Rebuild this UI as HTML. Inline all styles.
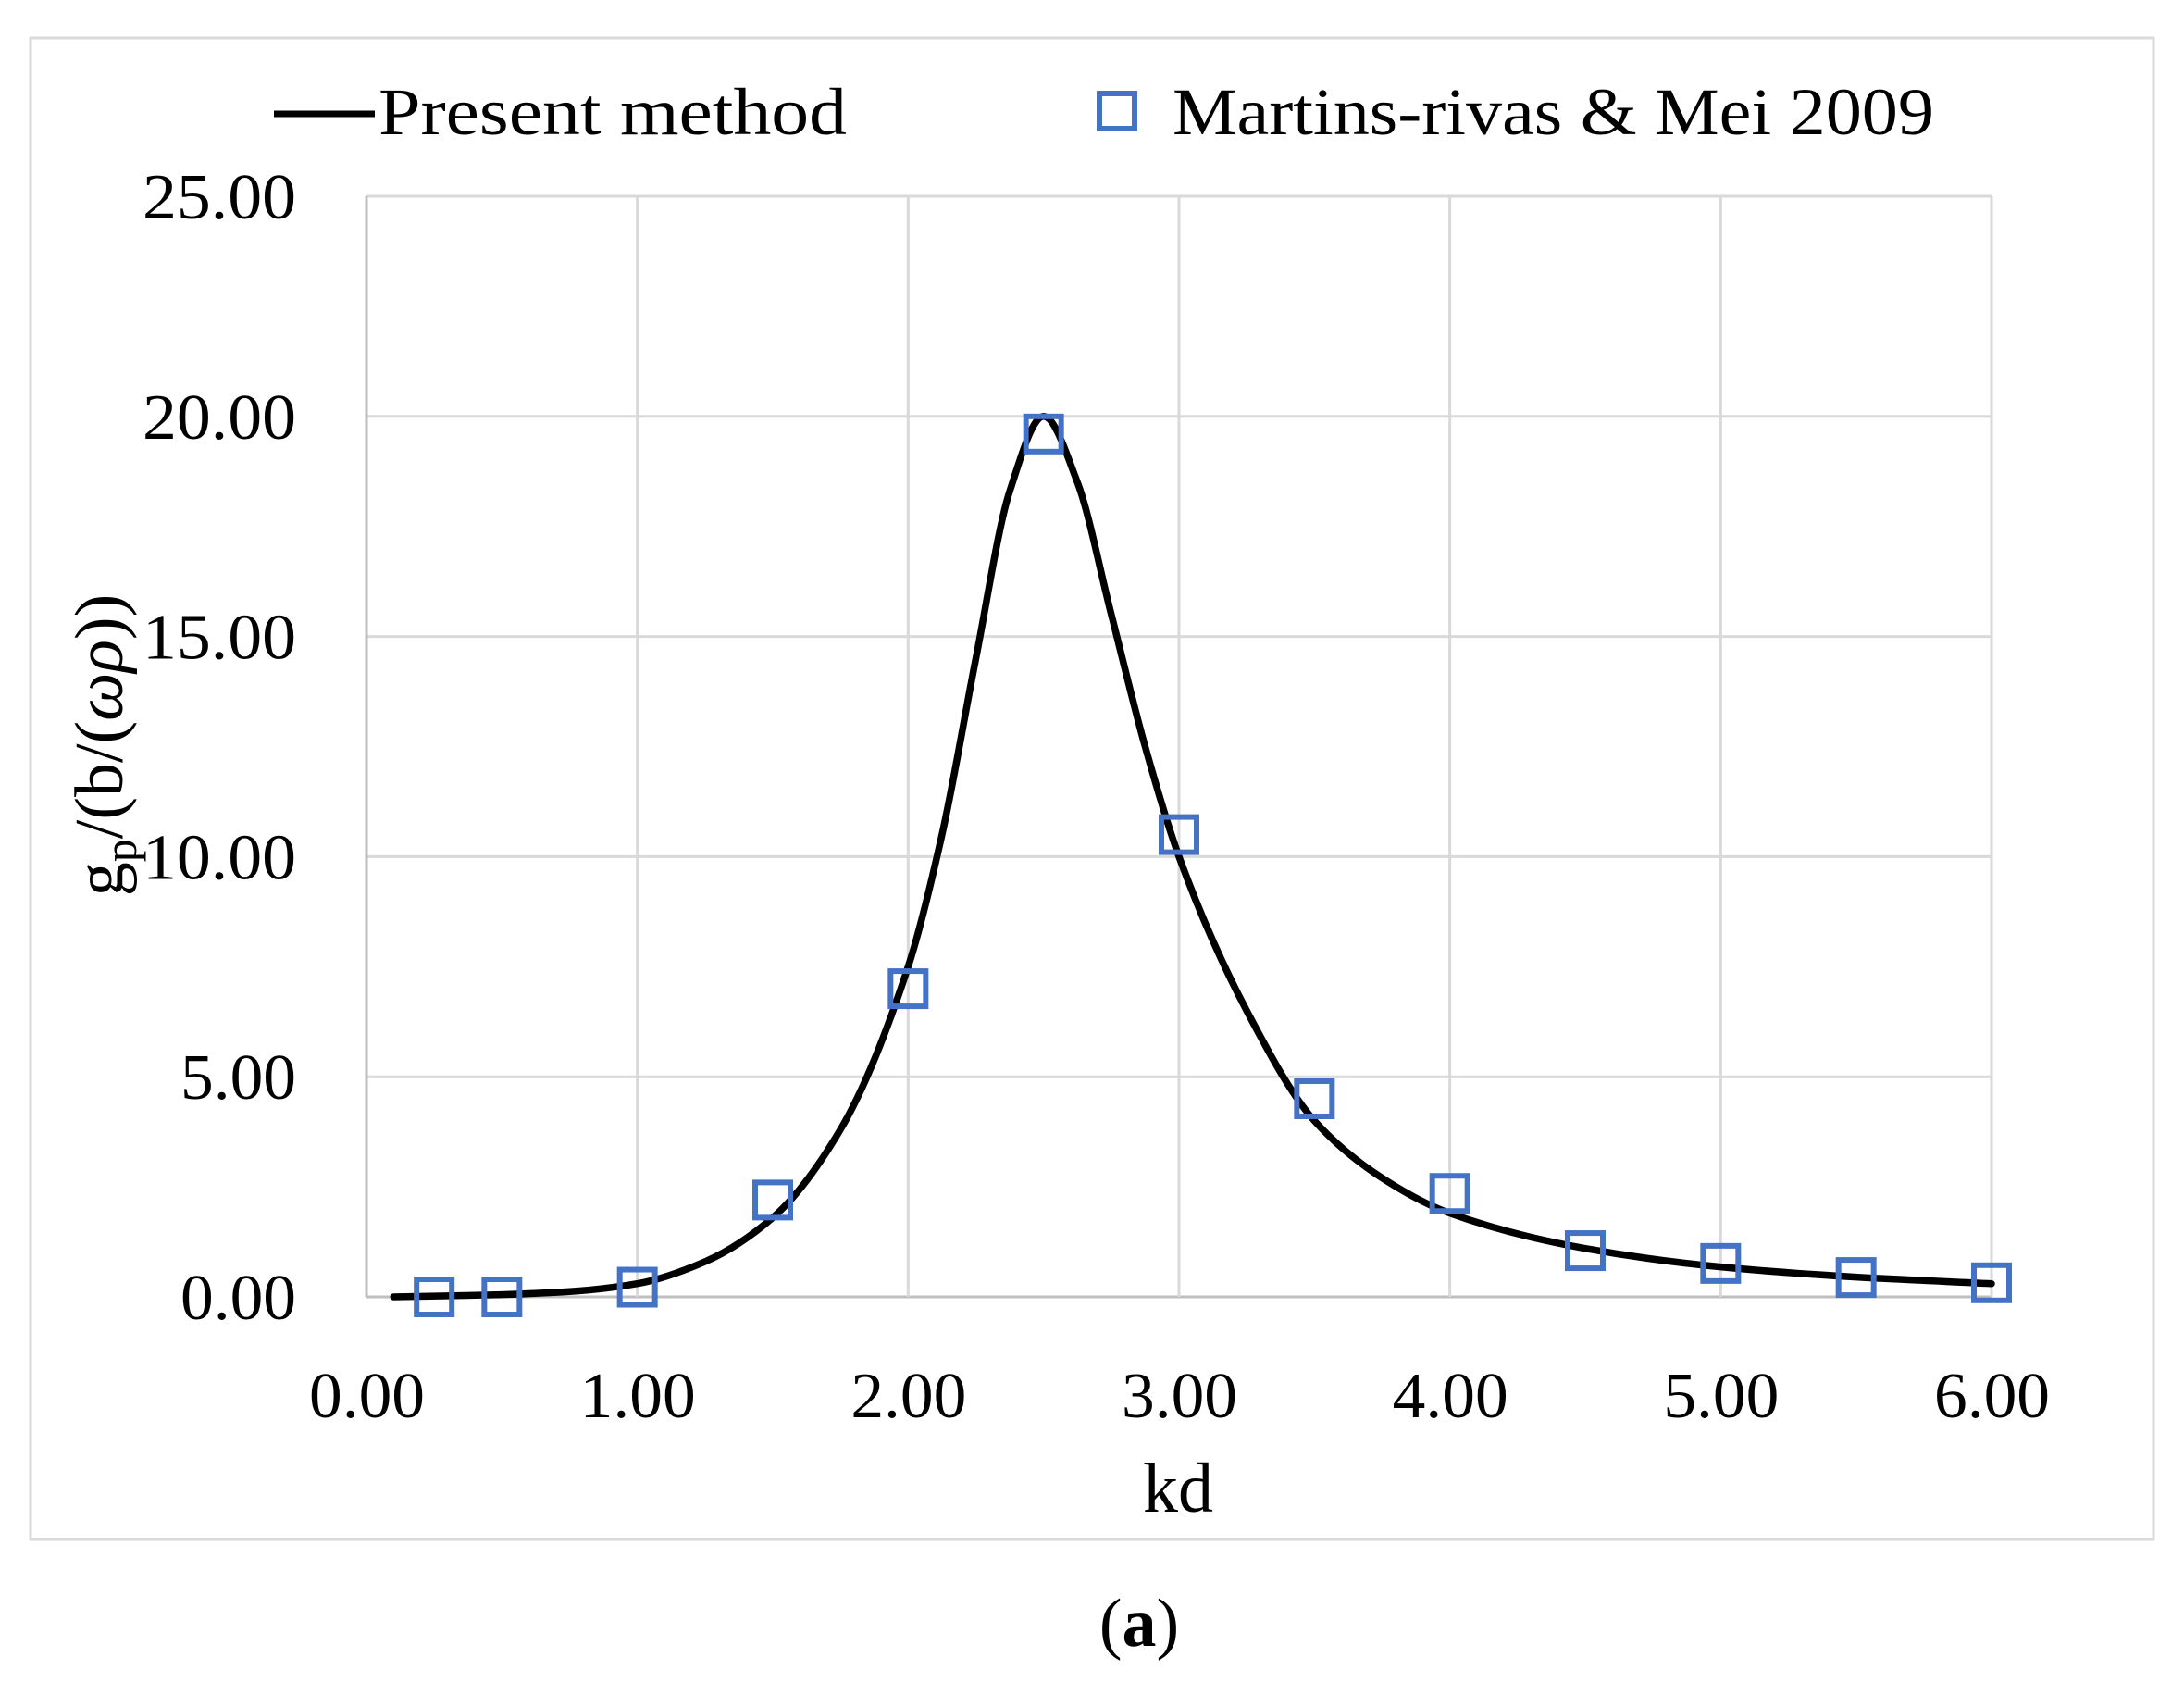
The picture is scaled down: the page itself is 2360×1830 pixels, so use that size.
<!DOCTYPE html>
<html><head><meta charset="utf-8">
<style>
html,body{margin:0;padding:0;background:#fff;}
svg{display:block;font-family:"Liberation Serif","DejaVu Serif",serif;}
</style></head>
<body>
<svg id="chart" width="2360" height="1830" viewBox="0 0 2360 1830" xmlns="http://www.w3.org/2000/svg">
<rect x="0" y="0" width="2360" height="1830" fill="#fff"/>
<rect x="33" y="41" width="2294" height="1622" fill="none" stroke="#d9d9d9" stroke-width="3"/>
<g id="grid"></g>
<g id="ticks"></g>
<g id="series"></g>
<g>
 <line x1="296" y1="123" x2="405" y2="123" stroke="#000" stroke-width="7"/>
 <text x="409" y="145" font-size="72" textLength="506" lengthAdjust="spacingAndGlyphs">Present method</text>
 <rect x="1188" y="101" width="38" height="38" fill="none" stroke="#4472c4" stroke-width="6"/>
 <text x="1267" y="145" font-size="72" textLength="823" lengthAdjust="spacingAndGlyphs">Martins-rivas &amp; Mei 2009</text>
</g>
<text transform="translate(132,805) rotate(-90)" text-anchor="middle" font-size="74">g<tspan font-size="50" dy="15">p</tspan><tspan dy="-15">/(b/(</tspan><tspan font-style="italic">ωρ</tspan>))</text>
<text x="1273" y="1633" text-anchor="middle" font-size="76">kd</text>
<text x="1231" y="1778" text-anchor="middle" font-size="74">(<tspan font-weight="bold">a</tspan>)</text>
</svg>
<script>
const xTicks = [0,1,2,3,4,5,6];
const yTicks = [0,5,10,15,20,25];
const curveX = [0.1,0.5,0.75,1,1.25,1.5,1.75,2,2.125,2.25,2.375,2.5,2.625,2.75,2.875,3,3.25,3.5,3.75,4,4.5,5,5.5,6];
const curveY = [0,0.05,0.12,0.3,0.8,1.8,3.8,7.5,10.5,14.5,18.3,20.0,18.5,15.5,12.5,10.0,6.5,4.0,2.7,1.9,1.1,0.68,0.45,0.3];
const refX = [0.25,0.5,1,1.5,2,2.5,3,3.5,4,4.5,5,5.5,6];
const refY = [0,0,0.22,2.2,7.0,19.6,10.5,4.5,2.35,1.05,0.76,0.44,0.32];

const NS = "http://www.w3.org/2000/svg";
const X0=396, X1=2152, Y0=1401, Y1=212;
function sx(v){return X0+(v-0)/(6-0)*(X1-X0);}
function sy(v){return Y0-(v-0)/(25-0)*(Y0-Y1);}
function mk(tag, attrs, parent){const e=document.createElementNS(NS,tag);for(const k in attrs)e.setAttribute(k,attrs[k]);parent.appendChild(e);return e;}
const grid=document.getElementById('grid'), ticks=document.getElementById('ticks'), series=document.getElementById('series');
yTicks.forEach(t=>{
  const l=mk('line',{x1:X0,x2:X1,y1:sy(t),y2:sy(t),stroke:t===0?'#bfbfbf':'#d9d9d9','stroke-width':3},grid);
  
  
  const s=t.toFixed(2);
  const tx=mk('text',{x:X0-76-(s.length===5?166:125),y:sy(t)+24,'font-size':70,textLength:(s.length===5?166:125),lengthAdjust:'spacingAndGlyphs'},ticks);
  tx.textContent=s;
  
  
});
xTicks.forEach(t=>{
  const l=mk('line',{x1:sx(t),x2:sx(t),y1:Y1,y2:Y0,stroke:t===0?'#bfbfbf':'#d9d9d9','stroke-width':3},grid);
  
  
  const tx=mk('text',{x:sx(t)-62,y:Y0+130,'font-size':70,textLength:125,lengthAdjust:'spacingAndGlyphs'},ticks);
  tx.textContent=t.toFixed(2);
  
  
});
// monotone cubic (Fritsch-Carlson) in data space
const n=curveX.length, dxs=[], ms=[], tg=new Array(n);
for(let i=0;i<n-1;i++){dxs.push(curveX[i+1]-curveX[i]);ms.push((curveY[i+1]-curveY[i])/dxs[i]);}
tg[0]=ms[0]; tg[n-1]=ms[n-2];
for(let i=1;i<n-1;i++){
  if(ms[i-1]*ms[i]<=0) tg[i]=0;
  else { const w1=2*dxs[i]+dxs[i-1], w2=dxs[i]+2*dxs[i-1]; tg[i]=(w1+w2)/(w1/ms[i-1]+w2/ms[i]); }
}
let d='M'+sx(curveX[0])+','+sy(curveY[0]);
for(let i=0;i<n-1;i++){
  const h=dxs[i];
  const c1x=curveX[i]+h/3, c1y=curveY[i]+tg[i]*h/3;
  const c2x=curveX[i+1]-h/3, c2y=curveY[i+1]-tg[i+1]*h/3;
  d+=' C'+sx(c1x)+','+sy(c1y)+' '+sx(c2x)+','+sy(c2y)+' '+sx(curveX[i+1])+','+sy(curveY[i+1]);
}
const path=mk('path',{d:d,fill:'none',stroke:'#000','stroke-width':7.5,'stroke-linecap':'round','stroke-linejoin':'round'},series);


refX.forEach((x,i)=>{
  const r=mk('rect',{x:sx(x)-19,y:sy(refY[i])-19,width:38,height:38,fill:'none',stroke:'#4472c4','stroke-width':6},series);
  
  
});
</script>
</body></html>
